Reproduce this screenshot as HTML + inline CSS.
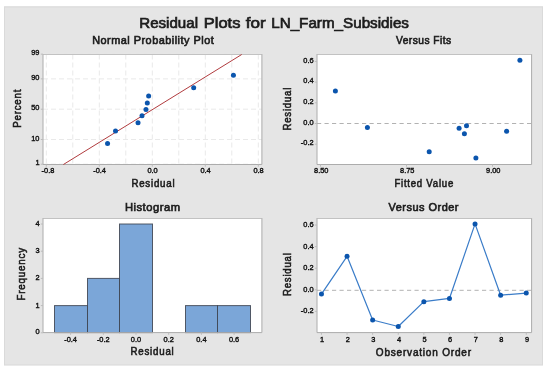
<!DOCTYPE html>
<html lang="en"><head><meta charset="utf-8"><title>Residual Plots for LN_Farm_Subsidies</title>
<style>html,body{margin:0;padding:0;background:#fff;}svg{display:block;}</style></head>
<body>
<svg width="550" height="372" viewBox="0 0 550 372" font-family="'Liberation Sans', sans-serif">
<rect width="550" height="372" fill="#fff"/>
<rect x="4" y="6.4" width="539" height="359" fill="#e5e5e5"/>
<rect x="4.5" y="6.9" width="538" height="358" fill="none" stroke="#dadada" stroke-width="1"/>
<text y="27.7" font-size="15" fill="#1c1c1c" stroke="#1c1c1c" stroke-width="0.7"><tspan x="139.3" textLength="58.7" lengthAdjust="spacingAndGlyphs">Residual</tspan> <tspan x="203.8" textLength="36.6" lengthAdjust="spacingAndGlyphs">Plots</tspan> <tspan x="245.7" textLength="19.9" lengthAdjust="spacingAndGlyphs">for</tspan> <tspan x="271.2" textLength="137.8" lengthAdjust="spacingAndGlyphs">LN_Farm_Subsidies</tspan></text>
<rect x="43.0" y="54.5" width="218.89999999999998" height="110.0" fill="#fff"/>
<line x1="46.30" y1="54.5" x2="46.30" y2="164.5" stroke="#e9e9e9" stroke-width="1" stroke-dasharray="5 3"/>
<line x1="72.80" y1="54.5" x2="72.80" y2="164.5" stroke="#e9e9e9" stroke-width="1" stroke-dasharray="5 3"/>
<line x1="99.30" y1="54.5" x2="99.30" y2="164.5" stroke="#e9e9e9" stroke-width="1" stroke-dasharray="5 3"/>
<line x1="125.80" y1="54.5" x2="125.80" y2="164.5" stroke="#e9e9e9" stroke-width="1" stroke-dasharray="5 3"/>
<line x1="152.30" y1="54.5" x2="152.30" y2="164.5" stroke="#e9e9e9" stroke-width="1" stroke-dasharray="5 3"/>
<line x1="178.80" y1="54.5" x2="178.80" y2="164.5" stroke="#e9e9e9" stroke-width="1" stroke-dasharray="5 3"/>
<line x1="205.30" y1="54.5" x2="205.30" y2="164.5" stroke="#e9e9e9" stroke-width="1" stroke-dasharray="5 3"/>
<line x1="231.80" y1="54.5" x2="231.80" y2="164.5" stroke="#e9e9e9" stroke-width="1" stroke-dasharray="5 3"/>
<line x1="258.30" y1="54.5" x2="258.30" y2="164.5" stroke="#e9e9e9" stroke-width="1" stroke-dasharray="5 3"/>
<line x1="43.0" y1="54.18" x2="261.9" y2="54.18" stroke="#e9e9e9" stroke-width="1" stroke-dasharray="5 3"/>
<line x1="43.0" y1="78.89" x2="261.9" y2="78.89" stroke="#e9e9e9" stroke-width="1" stroke-dasharray="5 3"/>
<line x1="43.0" y1="109.20" x2="261.9" y2="109.20" stroke="#e9e9e9" stroke-width="1" stroke-dasharray="5 3"/>
<line x1="43.0" y1="139.51" x2="261.9" y2="139.51" stroke="#e9e9e9" stroke-width="1" stroke-dasharray="5 3"/>
<line x1="43.0" y1="164.22" x2="261.9" y2="164.22" stroke="#e9e9e9" stroke-width="1" stroke-dasharray="5 3"/>
<path d="M42.5 54.5H262.4" fill="none" stroke="#c2c2c2" stroke-width="1"/>
<path d="M43.0 54.5V164.5H261.9V54.5" fill="none" stroke="#acacac" stroke-width="1"/>
<line x1="63.4" y1="164.5" x2="241.7" y2="54.5" stroke="#ac3034" stroke-width="0.95"/>
<circle cx="107.55" cy="143.53" r="2.5" fill="#0b55ad"/>
<circle cx="115.50" cy="130.97" r="2.5" fill="#0b55ad"/>
<circle cx="138.03" cy="122.68" r="2.5" fill="#0b55ad"/>
<circle cx="142.00" cy="115.78" r="2.5" fill="#0b55ad"/>
<circle cx="145.98" cy="109.40" r="2.5" fill="#0b55ad"/>
<circle cx="147.30" cy="103.02" r="2.5" fill="#0b55ad"/>
<circle cx="148.63" cy="96.12" r="2.5" fill="#0b55ad"/>
<circle cx="193.68" cy="87.83" r="2.5" fill="#0b55ad"/>
<circle cx="233.43" cy="75.27" r="2.5" fill="#0b55ad"/>
<line x1="40.8" y1="54.18" x2="43.0" y2="54.18" stroke="#bcbcbc" stroke-width="1"/>
<text x="39.50" y="55.38" font-size="7.8" text-anchor="end" font-weight="normal" fill="#111" textLength="8.24" lengthAdjust="spacingAndGlyphs"  stroke="#111" stroke-width="0.4">99</text>
<line x1="40.8" y1="78.89" x2="43.0" y2="78.89" stroke="#bcbcbc" stroke-width="1"/>
<text x="39.50" y="80.09" font-size="7.8" text-anchor="end" font-weight="normal" fill="#111" textLength="8.24" lengthAdjust="spacingAndGlyphs"  stroke="#111" stroke-width="0.4">90</text>
<line x1="40.8" y1="109.20" x2="43.0" y2="109.20" stroke="#bcbcbc" stroke-width="1"/>
<text x="39.50" y="110.40" font-size="7.8" text-anchor="end" font-weight="normal" fill="#111" textLength="8.24" lengthAdjust="spacingAndGlyphs"  stroke="#111" stroke-width="0.4">50</text>
<line x1="40.8" y1="139.51" x2="43.0" y2="139.51" stroke="#bcbcbc" stroke-width="1"/>
<text x="39.50" y="140.71" font-size="7.8" text-anchor="end" font-weight="normal" fill="#111" textLength="8.24" lengthAdjust="spacingAndGlyphs"  stroke="#111" stroke-width="0.4">10</text>
<line x1="40.8" y1="164.22" x2="43.0" y2="164.22" stroke="#bcbcbc" stroke-width="1"/>
<text x="39.50" y="165.42" font-size="7.8" text-anchor="end" font-weight="normal" fill="#111" textLength="4.12" lengthAdjust="spacingAndGlyphs"  stroke="#111" stroke-width="0.4">1</text>
<line x1="46.30" y1="164.5" x2="46.30" y2="166.7" stroke="#bcbcbc" stroke-width="1"/>
<text x="48.00" y="173.30" font-size="7.8" text-anchor="middle" font-weight="normal" fill="#111" textLength="12.77" lengthAdjust="spacingAndGlyphs"  stroke="#111" stroke-width="0.4">-0.8</text>
<line x1="99.30" y1="164.5" x2="99.30" y2="166.7" stroke="#bcbcbc" stroke-width="1"/>
<text x="99.60" y="173.30" font-size="7.8" text-anchor="middle" font-weight="normal" fill="#111" textLength="12.77" lengthAdjust="spacingAndGlyphs"  stroke="#111" stroke-width="0.4">-0.4</text>
<line x1="152.30" y1="164.5" x2="152.30" y2="166.7" stroke="#bcbcbc" stroke-width="1"/>
<text x="152.60" y="173.30" font-size="7.8" text-anchor="middle" font-weight="normal" fill="#111" textLength="10.30" lengthAdjust="spacingAndGlyphs"  stroke="#111" stroke-width="0.4">0.0</text>
<line x1="205.30" y1="164.5" x2="205.30" y2="166.7" stroke="#bcbcbc" stroke-width="1"/>
<text x="205.60" y="173.30" font-size="7.8" text-anchor="middle" font-weight="normal" fill="#111" textLength="10.30" lengthAdjust="spacingAndGlyphs"  stroke="#111" stroke-width="0.4">0.4</text>
<line x1="258.30" y1="164.5" x2="258.30" y2="166.7" stroke="#bcbcbc" stroke-width="1"/>
<text x="258.60" y="173.30" font-size="7.8" text-anchor="middle" font-weight="normal" fill="#111" textLength="10.30" lengthAdjust="spacingAndGlyphs"  stroke="#111" stroke-width="0.4">0.8</text>
<text x="153.40" y="187.30" font-size="10" text-anchor="middle" font-weight="normal" fill="#1c1c1c" textLength="44.00" lengthAdjust="spacingAndGlyphs"  stroke="#1c1c1c" stroke-width="0.55" letter-spacing="0.8">Residual</text>
<text x="153.20" y="43.80" font-size="11.1" text-anchor="middle" font-weight="normal" fill="#1c1c1c" textLength="122.00" lengthAdjust="spacingAndGlyphs"  stroke="#1c1c1c" stroke-width="0.65" letter-spacing="0.5">Normal Probability Plot</text>
<text x="21.00" y="108.30" font-size="10" text-anchor="middle" font-weight="normal" fill="#1c1c1c" textLength="39.00" lengthAdjust="spacingAndGlyphs" transform="rotate(-90 21.00 108.30)"  stroke="#1c1c1c" stroke-width="0.55" letter-spacing="0.8">Percent</text>
<rect x="317.0" y="54.5" width="214.60000000000002" height="110.0" fill="#fff"/>
<line x1="317.0" y1="123.5" x2="531.6" y2="123.5" stroke="#b2b2b2" stroke-width="1" stroke-dasharray="4.2 3.3"/>
<path d="M316.5 54.5H532.1" fill="none" stroke="#c2c2c2" stroke-width="1"/>
<path d="M317.0 54.5V164.5H531.6V54.5" fill="none" stroke="#acacac" stroke-width="1"/>
<circle cx="335.40" cy="90.90" r="2.5" fill="#0b55ad"/>
<circle cx="367.40" cy="127.40" r="2.5" fill="#0b55ad"/>
<circle cx="429.20" cy="151.70" r="2.5" fill="#0b55ad"/>
<circle cx="459.10" cy="128.20" r="2.5" fill="#0b55ad"/>
<circle cx="466.50" cy="125.70" r="2.5" fill="#0b55ad"/>
<circle cx="464.40" cy="133.80" r="2.5" fill="#0b55ad"/>
<circle cx="475.90" cy="158.10" r="2.5" fill="#0b55ad"/>
<circle cx="506.60" cy="131.30" r="2.5" fill="#0b55ad"/>
<circle cx="519.90" cy="60.30" r="2.5" fill="#0b55ad"/>
<line x1="314.8" y1="61.40" x2="317.0" y2="61.40" stroke="#bcbcbc" stroke-width="1"/>
<text x="313.60" y="62.60" font-size="7.8" text-anchor="end" font-weight="normal" fill="#111" textLength="10.30" lengthAdjust="spacingAndGlyphs"  stroke="#111" stroke-width="0.4">0.6</text>
<line x1="314.8" y1="82.10" x2="317.0" y2="82.10" stroke="#bcbcbc" stroke-width="1"/>
<text x="313.60" y="83.30" font-size="7.8" text-anchor="end" font-weight="normal" fill="#111" textLength="10.30" lengthAdjust="spacingAndGlyphs"  stroke="#111" stroke-width="0.4">0.4</text>
<line x1="314.8" y1="102.80" x2="317.0" y2="102.80" stroke="#bcbcbc" stroke-width="1"/>
<text x="313.60" y="104.00" font-size="7.8" text-anchor="end" font-weight="normal" fill="#111" textLength="10.30" lengthAdjust="spacingAndGlyphs"  stroke="#111" stroke-width="0.4">0.2</text>
<line x1="314.8" y1="123.50" x2="317.0" y2="123.50" stroke="#bcbcbc" stroke-width="1"/>
<text x="313.60" y="124.70" font-size="7.8" text-anchor="end" font-weight="normal" fill="#111" textLength="10.30" lengthAdjust="spacingAndGlyphs"  stroke="#111" stroke-width="0.4">0.0</text>
<line x1="314.8" y1="144.20" x2="317.0" y2="144.20" stroke="#bcbcbc" stroke-width="1"/>
<text x="313.60" y="145.40" font-size="7.8" text-anchor="end" font-weight="normal" fill="#111" textLength="12.77" lengthAdjust="spacingAndGlyphs"  stroke="#111" stroke-width="0.4">-0.2</text>
<line x1="320.50" y1="164.5" x2="320.50" y2="166.7" stroke="#bcbcbc" stroke-width="1"/>
<text x="321.30" y="173.40" font-size="7.8" text-anchor="middle" font-weight="normal" fill="#111" textLength="14.42" lengthAdjust="spacingAndGlyphs"  stroke="#111" stroke-width="0.4">8.50</text>
<line x1="406.50" y1="164.5" x2="406.50" y2="166.7" stroke="#bcbcbc" stroke-width="1"/>
<text x="407.30" y="173.40" font-size="7.8" text-anchor="middle" font-weight="normal" fill="#111" textLength="14.42" lengthAdjust="spacingAndGlyphs"  stroke="#111" stroke-width="0.4">8.75</text>
<line x1="492.50" y1="164.5" x2="492.50" y2="166.7" stroke="#bcbcbc" stroke-width="1"/>
<text x="493.30" y="173.40" font-size="7.8" text-anchor="middle" font-weight="normal" fill="#111" textLength="14.42" lengthAdjust="spacingAndGlyphs"  stroke="#111" stroke-width="0.4">9.00</text>
<text x="424.20" y="187.30" font-size="10" text-anchor="middle" font-weight="normal" fill="#1c1c1c" textLength="59.60" lengthAdjust="spacingAndGlyphs"  stroke="#1c1c1c" stroke-width="0.55" letter-spacing="0.8">Fitted Value</text>
<text x="423.80" y="43.90" font-size="11.1" text-anchor="middle" font-weight="normal" fill="#1c1c1c" textLength="55.60" lengthAdjust="spacingAndGlyphs"  stroke="#1c1c1c" stroke-width="0.65" letter-spacing="0.5">Versus Fits</text>
<text x="290.80" y="108.70" font-size="10" text-anchor="middle" font-weight="normal" fill="#1c1c1c" textLength="43.50" lengthAdjust="spacingAndGlyphs" transform="rotate(-90 290.80 108.70)"  stroke="#1c1c1c" stroke-width="0.55" letter-spacing="0.8">Residual</text>
<rect x="43.0" y="218.5" width="218.89999999999998" height="114.10000000000002" fill="#fff"/>
<rect x="54.50" y="305.60" width="33.00" height="27.00" fill="#7ba6d8" stroke="#3c424e" stroke-opacity="0.85" stroke-width="1"/>
<rect x="87.50" y="278.40" width="32.00" height="54.20" fill="#7ba6d8" stroke="#3c424e" stroke-opacity="0.85" stroke-width="1"/>
<rect x="119.50" y="224.00" width="33.00" height="108.60" fill="#7ba6d8" stroke="#3c424e" stroke-opacity="0.85" stroke-width="1"/>
<rect x="185.50" y="305.60" width="32.00" height="27.00" fill="#7ba6d8" stroke="#3c424e" stroke-opacity="0.85" stroke-width="1"/>
<rect x="217.50" y="305.60" width="33.00" height="27.00" fill="#7ba6d8" stroke="#3c424e" stroke-opacity="0.85" stroke-width="1"/>
<path d="M42.5 218.5H262.4" fill="none" stroke="#c2c2c2" stroke-width="1"/>
<path d="M43.0 218.5V332.6H261.9V218.5" fill="none" stroke="#acacac" stroke-width="1"/>
<line x1="40.8" y1="332.80" x2="43.0" y2="332.80" stroke="#bcbcbc" stroke-width="1"/>
<text x="39.60" y="333.90" font-size="7.8" text-anchor="end" font-weight="normal" fill="#111" textLength="4.12" lengthAdjust="spacingAndGlyphs"  stroke="#111" stroke-width="0.4">0</text>
<line x1="40.8" y1="305.60" x2="43.0" y2="305.60" stroke="#bcbcbc" stroke-width="1"/>
<text x="39.60" y="307.60" font-size="7.8" text-anchor="end" font-weight="normal" fill="#111" textLength="4.12" lengthAdjust="spacingAndGlyphs"  stroke="#111" stroke-width="0.4">1</text>
<line x1="40.8" y1="278.40" x2="43.0" y2="278.40" stroke="#bcbcbc" stroke-width="1"/>
<text x="39.60" y="280.40" font-size="7.8" text-anchor="end" font-weight="normal" fill="#111" textLength="4.12" lengthAdjust="spacingAndGlyphs"  stroke="#111" stroke-width="0.4">2</text>
<line x1="40.8" y1="251.20" x2="43.0" y2="251.20" stroke="#bcbcbc" stroke-width="1"/>
<text x="39.60" y="253.20" font-size="7.8" text-anchor="end" font-weight="normal" fill="#111" textLength="4.12" lengthAdjust="spacingAndGlyphs"  stroke="#111" stroke-width="0.4">3</text>
<line x1="40.8" y1="224.00" x2="43.0" y2="224.00" stroke="#bcbcbc" stroke-width="1"/>
<text x="39.60" y="226.00" font-size="7.8" text-anchor="end" font-weight="normal" fill="#111" textLength="4.12" lengthAdjust="spacingAndGlyphs"  stroke="#111" stroke-width="0.4">4</text>
<line x1="70.60" y1="332.6" x2="70.60" y2="334.8" stroke="#bcbcbc" stroke-width="1"/>
<text x="70.60" y="342.20" font-size="7.8" text-anchor="middle" font-weight="normal" fill="#111" textLength="12.77" lengthAdjust="spacingAndGlyphs"  stroke="#111" stroke-width="0.4">-0.4</text>
<line x1="103.30" y1="332.6" x2="103.30" y2="334.8" stroke="#bcbcbc" stroke-width="1"/>
<text x="103.30" y="342.20" font-size="7.8" text-anchor="middle" font-weight="normal" fill="#111" textLength="12.77" lengthAdjust="spacingAndGlyphs"  stroke="#111" stroke-width="0.4">-0.2</text>
<line x1="136.00" y1="332.6" x2="136.00" y2="334.8" stroke="#bcbcbc" stroke-width="1"/>
<text x="136.00" y="342.20" font-size="7.8" text-anchor="middle" font-weight="normal" fill="#111" textLength="10.30" lengthAdjust="spacingAndGlyphs"  stroke="#111" stroke-width="0.4">0.0</text>
<line x1="168.70" y1="332.6" x2="168.70" y2="334.8" stroke="#bcbcbc" stroke-width="1"/>
<text x="168.70" y="342.20" font-size="7.8" text-anchor="middle" font-weight="normal" fill="#111" textLength="10.30" lengthAdjust="spacingAndGlyphs"  stroke="#111" stroke-width="0.4">0.2</text>
<line x1="201.40" y1="332.6" x2="201.40" y2="334.8" stroke="#bcbcbc" stroke-width="1"/>
<text x="201.40" y="342.20" font-size="7.8" text-anchor="middle" font-weight="normal" fill="#111" textLength="10.30" lengthAdjust="spacingAndGlyphs"  stroke="#111" stroke-width="0.4">0.4</text>
<line x1="234.10" y1="332.6" x2="234.10" y2="334.8" stroke="#bcbcbc" stroke-width="1"/>
<text x="234.10" y="342.20" font-size="7.8" text-anchor="middle" font-weight="normal" fill="#111" textLength="10.30" lengthAdjust="spacingAndGlyphs"  stroke="#111" stroke-width="0.4">0.6</text>
<text x="152.50" y="355.30" font-size="10" text-anchor="middle" font-weight="normal" fill="#1c1c1c" textLength="44.00" lengthAdjust="spacingAndGlyphs"  stroke="#1c1c1c" stroke-width="0.55" letter-spacing="0.8">Residual</text>
<text x="152.70" y="210.90" font-size="11.1" text-anchor="middle" font-weight="normal" fill="#1c1c1c" textLength="55.60" lengthAdjust="spacingAndGlyphs"  stroke="#1c1c1c" stroke-width="0.65" letter-spacing="0.5">Histogram</text>
<text x="25.00" y="273.80" font-size="10" text-anchor="middle" font-weight="normal" fill="#1c1c1c" textLength="53.40" lengthAdjust="spacingAndGlyphs" transform="rotate(-90 25.00 273.80)"  stroke="#1c1c1c" stroke-width="0.55" letter-spacing="0.8">Frequency</text>
<rect x="317.0" y="218.5" width="214.60000000000002" height="114.10000000000002" fill="#fff"/>
<line x1="317.0" y1="290.3" x2="531.6" y2="290.3" stroke="#b2b2b2" stroke-width="1" stroke-dasharray="4.2 3.3"/>
<path d="M316.5 218.5H532.1" fill="none" stroke="#c2c2c2" stroke-width="1"/>
<path d="M317.0 218.5V332.6H531.6V218.5" fill="none" stroke="#acacac" stroke-width="1"/>
<polyline points="321.45,294.12 347.05,256.32 372.65,320.04 398.25,326.52 423.85,301.68 449.45,298.44 475.05,223.92 500.65,295.20 526.25,293.04" fill="none" stroke="#3a7cc8" stroke-width="1.2" stroke-linejoin="round"/>
<circle cx="321.45" cy="294.12" r="2.5" fill="#0b55ad"/>
<circle cx="347.05" cy="256.32" r="2.5" fill="#0b55ad"/>
<circle cx="372.65" cy="320.04" r="2.5" fill="#0b55ad"/>
<circle cx="398.25" cy="326.52" r="2.5" fill="#0b55ad"/>
<circle cx="423.85" cy="301.68" r="2.5" fill="#0b55ad"/>
<circle cx="449.45" cy="298.44" r="2.5" fill="#0b55ad"/>
<circle cx="475.05" cy="223.92" r="2.5" fill="#0b55ad"/>
<circle cx="500.65" cy="295.20" r="2.5" fill="#0b55ad"/>
<circle cx="526.25" cy="293.04" r="2.5" fill="#0b55ad"/>
<line x1="314.8" y1="225.00" x2="317.0" y2="225.00" stroke="#bcbcbc" stroke-width="1"/>
<text x="313.60" y="227.00" font-size="7.8" text-anchor="end" font-weight="normal" fill="#111" textLength="10.30" lengthAdjust="spacingAndGlyphs"  stroke="#111" stroke-width="0.4">0.6</text>
<line x1="314.8" y1="246.60" x2="317.0" y2="246.60" stroke="#bcbcbc" stroke-width="1"/>
<text x="313.60" y="248.60" font-size="7.8" text-anchor="end" font-weight="normal" fill="#111" textLength="10.30" lengthAdjust="spacingAndGlyphs"  stroke="#111" stroke-width="0.4">0.4</text>
<line x1="314.8" y1="268.20" x2="317.0" y2="268.20" stroke="#bcbcbc" stroke-width="1"/>
<text x="313.60" y="270.20" font-size="7.8" text-anchor="end" font-weight="normal" fill="#111" textLength="10.30" lengthAdjust="spacingAndGlyphs"  stroke="#111" stroke-width="0.4">0.2</text>
<line x1="314.8" y1="289.80" x2="317.0" y2="289.80" stroke="#bcbcbc" stroke-width="1"/>
<text x="313.60" y="291.80" font-size="7.8" text-anchor="end" font-weight="normal" fill="#111" textLength="10.30" lengthAdjust="spacingAndGlyphs"  stroke="#111" stroke-width="0.4">0.0</text>
<line x1="314.8" y1="311.40" x2="317.0" y2="311.40" stroke="#bcbcbc" stroke-width="1"/>
<text x="313.60" y="313.40" font-size="7.8" text-anchor="end" font-weight="normal" fill="#111" textLength="12.77" lengthAdjust="spacingAndGlyphs"  stroke="#111" stroke-width="0.4">-0.2</text>
<line x1="321.45" y1="332.6" x2="321.45" y2="334.8" stroke="#bcbcbc" stroke-width="1"/>
<text x="322.15" y="342.00" font-size="7.8" text-anchor="middle" font-weight="normal" fill="#111" textLength="4.12" lengthAdjust="spacingAndGlyphs"  stroke="#111" stroke-width="0.4">1</text>
<line x1="347.05" y1="332.6" x2="347.05" y2="334.8" stroke="#bcbcbc" stroke-width="1"/>
<text x="347.75" y="342.00" font-size="7.8" text-anchor="middle" font-weight="normal" fill="#111" textLength="4.12" lengthAdjust="spacingAndGlyphs"  stroke="#111" stroke-width="0.4">2</text>
<line x1="372.65" y1="332.6" x2="372.65" y2="334.8" stroke="#bcbcbc" stroke-width="1"/>
<text x="373.35" y="342.00" font-size="7.8" text-anchor="middle" font-weight="normal" fill="#111" textLength="4.12" lengthAdjust="spacingAndGlyphs"  stroke="#111" stroke-width="0.4">3</text>
<line x1="398.25" y1="332.6" x2="398.25" y2="334.8" stroke="#bcbcbc" stroke-width="1"/>
<text x="398.95" y="342.00" font-size="7.8" text-anchor="middle" font-weight="normal" fill="#111" textLength="4.12" lengthAdjust="spacingAndGlyphs"  stroke="#111" stroke-width="0.4">4</text>
<line x1="423.85" y1="332.6" x2="423.85" y2="334.8" stroke="#bcbcbc" stroke-width="1"/>
<text x="424.55" y="342.00" font-size="7.8" text-anchor="middle" font-weight="normal" fill="#111" textLength="4.12" lengthAdjust="spacingAndGlyphs"  stroke="#111" stroke-width="0.4">5</text>
<line x1="449.45" y1="332.6" x2="449.45" y2="334.8" stroke="#bcbcbc" stroke-width="1"/>
<text x="450.15" y="342.00" font-size="7.8" text-anchor="middle" font-weight="normal" fill="#111" textLength="4.12" lengthAdjust="spacingAndGlyphs"  stroke="#111" stroke-width="0.4">6</text>
<line x1="475.05" y1="332.6" x2="475.05" y2="334.8" stroke="#bcbcbc" stroke-width="1"/>
<text x="475.75" y="342.00" font-size="7.8" text-anchor="middle" font-weight="normal" fill="#111" textLength="4.12" lengthAdjust="spacingAndGlyphs"  stroke="#111" stroke-width="0.4">7</text>
<line x1="500.65" y1="332.6" x2="500.65" y2="334.8" stroke="#bcbcbc" stroke-width="1"/>
<text x="501.35" y="342.00" font-size="7.8" text-anchor="middle" font-weight="normal" fill="#111" textLength="4.12" lengthAdjust="spacingAndGlyphs"  stroke="#111" stroke-width="0.4">8</text>
<line x1="526.25" y1="332.6" x2="526.25" y2="334.8" stroke="#bcbcbc" stroke-width="1"/>
<text x="526.95" y="342.00" font-size="7.8" text-anchor="middle" font-weight="normal" fill="#111" textLength="4.12" lengthAdjust="spacingAndGlyphs"  stroke="#111" stroke-width="0.4">9</text>
<text x="423.80" y="355.90" font-size="10" text-anchor="middle" font-weight="normal" fill="#1c1c1c" textLength="96.00" lengthAdjust="spacingAndGlyphs"  stroke="#1c1c1c" stroke-width="0.55" letter-spacing="0.8">Observation Order</text>
<text x="423.80" y="211.30" font-size="11.1" text-anchor="middle" font-weight="normal" fill="#1c1c1c" textLength="70.40" lengthAdjust="spacingAndGlyphs"  stroke="#1c1c1c" stroke-width="0.65" letter-spacing="0.5">Versus Order</text>
<text x="290.80" y="274.20" font-size="10" text-anchor="middle" font-weight="normal" fill="#1c1c1c" textLength="43.50" lengthAdjust="spacingAndGlyphs" transform="rotate(-90 290.80 274.20)"  stroke="#1c1c1c" stroke-width="0.55" letter-spacing="0.8">Residual</text>
</svg>
</body></html>
